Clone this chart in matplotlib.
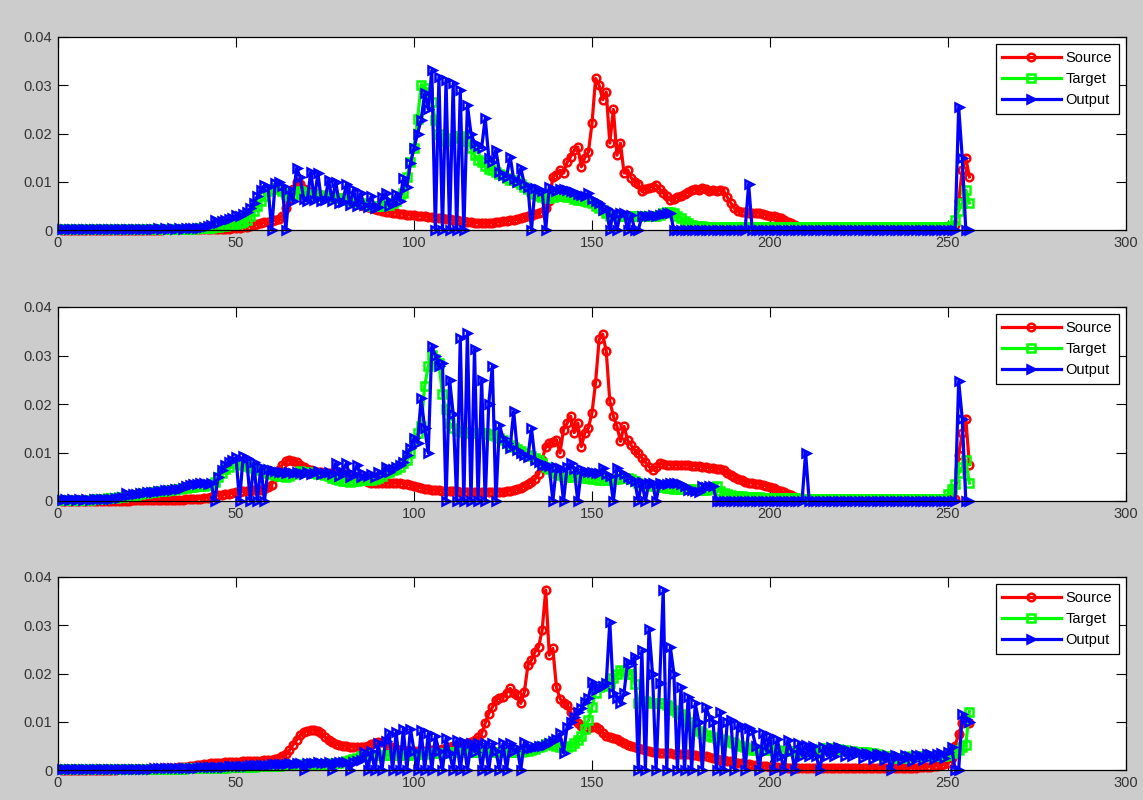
import numpy as np
import matplotlib
matplotlib.use("Agg")
import matplotlib.pyplot as plt

plt.rcParams['font.family'] = ['Liberation Sans', 'DejaVu Sans']

# Histogram values, units of 1e-4, bins 1..256 (16 values per row)
source_1 = """
1 1 1 1 1 1 1 1 1 1 1 1 1 1 1 1
1 1 1 1 1 1 1 1 1 1 1 1 1 2 2 2
2 2 2 2 2 2 2 2 2 2 2 2 3 3 3 3
4 5 5 6 7 8 10 12 14 16 17 18 20 22 30 45
65 85 100 95 85 80 77 75 74 72 72 70 70 68 67 66
62 60 58 55 52 50 48 46 44 42 40 38 37 36 35 34
33 32 31 31 30 29 28 27 26 25 24 24 23 22 21 20
19 18 17 16 15 15 14 14 14 15 16 17 18 19 20 21
22 24 26 28 30 33 35 38 45 60 110 115 124 118 140 152
165 172 131 150 162 221 314 300 270 286 180 250 155 180 118 125
108 100 95 80 85 88 90 93 85 77 70 62 65 68 70 75
78 83 85 82 87 85 80 82 80 83 80 68 56 45 40 38
37 36 36 36 35 33 31 30 28 27 25 20 17 14 10 7
5 4 4 4 4 4 4 4 4 4 4 4 4 4 4 4
4 4 4 4 4 4 4 4 4 4 4 4 4 4 4 4
4 4 4 4 4 4 4 4 4 4 5 10 60 125 150 110
"""
target_1 = """
2 2 2 2 2 2 2 2 2 2 2 2 2 2 2 2
2 2 2 2 2 2 2 2 2 2 3 3 3 3 3 3
3 3 3 3 3 3 4 4 4 5 5 6 7 8 9 10
11 12 14 17 20 30 40 50 60 70 80 85 88 85 80 75
70 72 75 80 78 75 73 74 72 70 71 69 68 67 66 65
63 61 59 57 55 53 52 50 50 49 50 51 52 55 60 70
77 110 140 170 230 300 295 285 265 228 200 190 185 186 190 195
195 193 185 170 155 145 140 132 126 124 120 117 113 108 104 103
100 95 90 85 80 75 70 68 66 66 68 70 70 70 69 68
65 63 62 60 58 55 50 45 41 35 30 28 28 28 28 29
29 29 29 29 29 29 29 29 32 35 37 37 35 30 24 18
14 10 8 8 8 7 7 7 7 7 7 7 7 7 7 7
7 7 7 7 7 7 7 7 7 7 7 7 7 7 7 7
6 6 6 6 6 6 6 6 6 6 6 6 6 6 6 6
6 6 6 6 6 6 6 6 6 6 6 6 6 6 6 6
6 6 6 6 6 6 6 6 6 7 8 20 40 56 83 56
"""
output_1 = """
2 3 2 3 2 3 2 3 2 3 2 3 2 3 2 3
2 3 2 3 2 3 2 3 2 3 3 4 3 4 3 4
3 4 3 4 4 5 4 5 6 8 10 21 15 18 20 22
25 31 28 33 38 45 56 70 83 93 90 0 97 100 92 0
85 60 128 110 65 60 121 62 118 60 62 104 60 100 55 58
95 52 85 50 76 52 48 70 45 48 69 76 50 55 75 60
107 90 138 170 200 228 283 250 331 0 317 0 311 0 304 0
290 0 259 200 180 175 170 232 150 140 166 120 115 110 152 105
100 128 95 90 0 87 85 80 0 90 85 80 86 85 83 80
78 75 72 70 77 65 60 55 41 45 0 38 0 35 36 0
32 0 0 28 30 29 31 30 32 33 35 35 0 0 0 0
0 0 0 0 0 0 0 0 0 0 0 0 0 0 0 0
0 95 0 0 0 0 0 0 0 0 0 0 0 0 0 0
0 0 0 0 0 0 0 0 0 0 0 0 0 0 0 0
0 0 0 0 0 0 0 0 0 0 0 0 0 0 0 0
0 0 0 0 0 0 0 0 0 0 0 0 255 150 0 0
"""
source_2 = """
1 1 1 1 1 1 1 1 1 1 1 1 1 1 1 1
1 1 1 1 2 2 2 2 2 2 2 2 2 3 3 3
3 3 3 4 4 4 5 5 6 7 8 10 12 13 14 15
16 18 19 20 20 21 22 22 23 24 28 33 50 64 75 82
85 83 80 75 70 66 63 61 60 59 58 58 58 57 56 55
55 54 52 50 47 44 40 37 37 37 37 37 37 37 37 37
36 35 33 31 29 27 25 24 23 22 22 21 21 20 20 20
19 19 19 19 19 19 19 19 19 19 19 19 19 20 21 22
24 27 31 36 40 45 55 85 112 120 122 126 99 147 160 175
141 161 112 141 151 182 244 333 344 309 206 175 154 123 154 125
115 105 98 89 80 71 64 70 78 76 75 75 75 75 75 75
74 73 73 72 71 70 69 68 67 65 64 58 54 50 46 43
40 38 37 36 35 33 31 28 26 23 20 18 15 12 9 7
6 5 5 5 5 5 5 5 5 5 5 5 5 5 5 5
5 5 5 5 5 5 5 5 5 5 5 5 5 5 5 5
5 5 5 5 5 5 5 5 5 5 5 5 95 140 170 75
"""
target_2 = """
2 2 2 2 2 3 3 3 3 4 4 5 5 6 6 7
8 9 10 11 12 13 15 16 17 18 19 20 21 21 22 23
24 25 26 27 28 29 30 30 31 33 36 40 50 58 65 71
78 78 76 75 72 70 68 66 64 62 57 55 53 52 51 50
52 55 58 61 60 59 58 57 56 55 53 51 48 46 44 42
41 40 41 42 43 43 43 44 46 48 52 57 60 63 67 71
78 85 99 126 140 154 237 278 302 292 285 220 190 160 150 147
145 143 142 141 141 141 141 141 139 137 133 129 126 120 115 112
108 104 99 95 92 89 84 78 71 65 60 57 54 52 50 50
50 50 49 48 47 46 45 44 43 43 44 45 46 47 47 47
45 41 37 35 33 32 31 30 29 28 27 26 25 25 24 24
24 24 23 23 23 23 25 28 30 20 16 14 12 11 10 10
9 9 8 8 8 7 7 7 7 7 7 6 6 6 6 6
5 5 5 5 5 5 5 5 5 5 5 5 5 5 5 5
5 5 5 5 5 5 5 5 5 5 5 5 5 5 5 5
5 5 5 5 5 5 5 5 5 15 25 35 57 70 85 37
"""
output_2 = """
3 4 3 4 3 4 3 4 3 4 4 5 4 5 5 6
6 8 16 12 14 15 16 17 18 19 18 20 21 22 22 23
24 25 27 30 33 35 36 37 37 36 37 0 50 64 75 80
85 90 0 92 88 0 80 0 71 0 66 64 62 60 60 58
60 57 60 58 55 60 56 58 62 55 58 60 55 78 52 60
78 50 55 75 50 55 52 55 50 60 55 71 60 65 70 75
80 95 110 130 120 212 150 99 319 300 278 285 0 250 180 0
337 0 347 0 313 0 250 0 200 278 0 157 130 120 110 185
105 100 95 90 150 85 80 75 75 72 0 70 68 0 70 78
65 0 65 62 60 60 58 58 68 55 52 0 68 60 55 50
45 42 0 40 0 38 37 0 37 36 36 37 37 37 36 30
23 22 20 19 30 28 30 30 0 0 0 0 0 0 0 0
0 0 0 0 0 0 0 0 0 0 0 0 0 0 0 0
0 100 0 0 0 0 0 0 0 0 0 0 0 0 0 0
0 0 0 0 0 0 0 0 0 0 0 0 0 0 0 0
0 0 0 0 0 0 0 0 0 0 0 0 247 170 0 0
"""
source_3 = """
1 1 1 1 1 1 1 1 1 1 1 1 1 1 1 1
2 2 2 2 2 2 2 2 3 3 3 3 4 4 4 5
5 6 6 7 8 9 10 11 12 13 14 14 15 15 16 16
17 17 17 18 18 18 19 19 19 20 20 21 22 25 28 33
41 52 62 72 78 81 83 83 80 76 68 62 57 54 52 50
49 48 48 48 48 48 49 53 55 57 59 55 50 46 43 41
41 40 40 40 40 40 40 40 41 41 42 43 45 47 49 51
50 52 55 58 62 68 76 97 117 130 145 150 152 160 169 159
155 138 162 217 228 245 255 290 373 238 252 172 148 138 135 121
104 97 92 90 88 89 90 85 76 70 68 66 64 60 55 52
50 48 46 44 42 40 38 37 36 35 35 35 34 34 34 34
33 32 31 30 29 28 27 25 23 21 20 19 18 16 15 14
13 12 11 10 9 8 8 7 7 6 6 6 5 5 5 5
5 4 4 4 4 4 4 4 4 4 4 4 4 4 4 4
4 4 4 4 4 4 4 4 4 4 4 4 4 4 4 5
5 6 6 7 7 8 9 10 12 14 25 50 75 97 100 97
"""
target_3 = """
2 2 2 2 2 2 2 2 2 2 2 2 2 2 2 2
2 2 2 2 3 3 3 3 3 3 3 3 3 3 3 3
3 3 3 4 4 4 4 4 4 5 5 5 5 5 5 6
6 6 6 7 7 7 7 8 8 8 8 9 9 9 10 10
10 11 11 11 12 12 12 12 13 13 13 13 14 14 15 16
18 20 22 25 28 30 31 31 31 31 31 31 31 31 31 31
31 32 32 33 33 34 34 35 35 35 36 36 36 37 37 38
38 38 38 38 38 38 38 38 38 38 38 38 38 38 38 38
38 38 39 40 42 44 47 50 53 55 52 50 48 48 48 50
55 62 70 85 103 131 160 172 175 179 180 190 200 207 205 200
200 179 138 140 142 140 138 138 138 138 135 130 125 120 117 110
100 92 85 80 76 73 71 69 67 65 62 60 57 55 52 50
47 44 42 41 41 41 41 41 41 41 40 40 40 39 39 38
38 38 39 40 42 44 45 45 45 44 43 42 41 40 39 38
38 38 37 36 35 34 32 30 28 26 24 24 25 26 27 28
28 28 28 28 28 28 28 29 30 32 35 38 42 48 52 121
"""
output_3 = """
3 2 3 2 3 2 3 2 3 2 3 2 3 2 3 2
3 3 3 3 3 3 3 3 3 3 4 4 4 4 4 4
4 5 5 5 5 5 5 6 6 6 6 7 7 7 7 8
8 8 9 9 9 10 10 10 11 11 11 12 12 12 13 13
14 13 14 14 0 15 14 15 16 14 15 16 0 15 16 17
16 0 17 18 20 38 0 40 0 55 0 60 76 0 79 0
86 0 86 40 0 83 0 76 0 70 40 0 66 35 0 62
0 59 0 55 38 55 0 55 0 55 40 0 55 0 55 40
45 0 59 45 45 48 50 50 52 55 60 65 76 35 90 100
110 120 128 140 150 183 166 170 175 180 307 160 150 138 160 224
220 235 0 248 0 293 200 0 180 373 0 255 200 0 172 0
152 0 138 100 0 130 110 100 0 121 0 100 103 0 95 90
0 88 80 50 0 76 40 70 0 65 30 0 62 40 0 55
30 52 30 50 28 0 48 30 48 28 47 45 30 42 28 40
38 25 36 34 22 34 33 20 32 0 31 30 20 31 30 18
31 32 20 33 34 22 34 35 25 38 48 0 0 117 105 100
"""

series_labels = ["Source", "Target", "Output"]
series_colors = ["#ff0000", "#00ff00", "#0000ff"]
series_markers = ["o", "s", ">"]
x_ticks = [0, 50, 100, 150, 200, 250, 300]
y_ticks = [0, 0.01, 0.02, 0.03, 0.04]
y_tick_labels = ["0", "0.01", "0.02", "0.03", "0.04"]


def parse(text):
    vals = np.array([int(t) for t in text.split()], dtype=float) * 1e-4
    assert len(vals) == 256, len(vals)
    return vals


panels = [
    [parse(source_1), parse(target_1), parse(output_1)],
    [parse(source_2), parse(target_2), parse(output_2)],
    [parse(source_3), parse(target_3), parse(output_3)],
]
bins = np.arange(1, 257)

fig = plt.figure(figsize=(11.43, 8.0), dpi=100, facecolor="#cccccc")
W, H = 1143.0, 800.0
left, right = 58, 1126
tops = [37, 307, 577]
bottoms = [230, 501, 770]

for p, series in enumerate(panels):
    ax = fig.add_axes([left / W, 1 - bottoms[p] / H, (right - left) / W,
                       (bottoms[p] - tops[p]) / H])
    ax.set_facecolor("white")
    for vals, lab, col, mk in zip(series, series_labels, series_colors, series_markers):
        ax.plot(bins, vals, color=col, lw=2.3, marker=mk, ms=5.5, mew=1.8,
                mfc="none", mec=col, label=lab, clip_on=False)
    ax.set_xlim(0, 300)
    ax.set_ylim(0, 0.04)
    ax.set_xticks(x_ticks)
    ax.set_xticklabels([str(t) for t in x_ticks])
    ax.set_yticks(y_ticks)
    ax.set_yticklabels(y_tick_labels)
    ax.tick_params(direction="in", top=True, right=True, length=7.5, width=0.8,
                   labelsize=10.5, colors="#000000", labelcolor="#333333", pad=4)
    for s in ax.spines.values():
        s.set_linewidth(0.9)
        s.set_color("black")
    leg = ax.legend(loc="upper right", fontsize=10.5, numpoints=1, handlelength=4.0,
                    handletextpad=0.35, labelspacing=0.5, borderpad=0.45,
                    borderaxespad=0.5, fancybox=False, framealpha=1,
                    edgecolor="black")
    leg.get_frame().set_linewidth(0.9)

fig.savefig("out.png", dpi=100, facecolor=fig.get_facecolor())
